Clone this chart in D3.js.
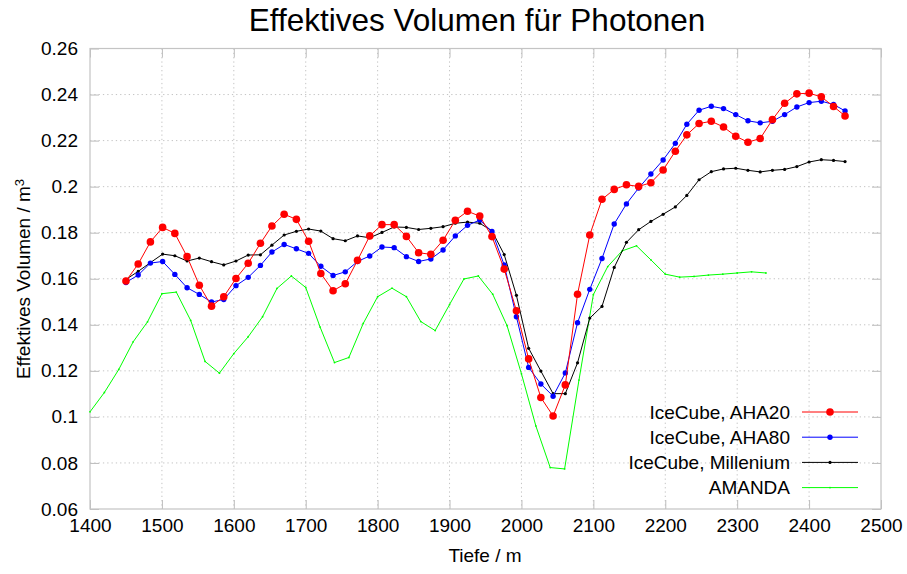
<!DOCTYPE html>
<html>
<head>
<meta charset="utf-8">
<script src="https://cdn.jsdelivr.net/npm/d3@7"></script>
<style>
	body { margin: 0; background: #fff; }
	svg { font-family: "Liberation Sans", Arial, Helvetica, sans-serif; }
</style>
</head>
<body>
<svg id="chart" width="907" height="574"></svg>
<script>
// depth of the IceCube DOMs (m)
const icecubeDepths = [1450, 1467, 1484, 1501, 1518, 1535, 1552, 1569, 1586, 1603,
	1620, 1637, 1653, 1670, 1687, 1704, 1721, 1738, 1755, 1772,
	1789, 1806, 1823, 1840, 1857, 1874, 1891, 1908, 1925, 1942,
	1959, 1976, 1993, 2010, 2027, 2044, 2061, 2078, 2095, 2112,
	2129, 2146, 2163, 2180, 2197, 2214, 2230, 2247, 2264, 2281,
	2298, 2315, 2332, 2349, 2366, 2383, 2400, 2417, 2434, 2450];

const aha20 = [0.1590, 0.1664, 0.1760, 0.1823, 0.1797, 0.1696, 0.1572, 0.1481, 0.1522, 0.1601,
	0.1667, 0.1754, 0.1829, 0.1880, 0.1858, 0.1763, 0.1623, 0.1548, 0.1578, 0.1680,
	0.1786, 0.1835, 0.1835, 0.1784, 0.1713, 0.1706, 0.1767, 0.1854, 0.1893, 0.1872,
	0.1783, 0.1642, 0.1461, 0.1252, 0.1084, 0.1004, 0.1139, 0.1533, 0.1790, 0.1945,
	0.1988, 0.2008, 0.2001, 0.2017, 0.2072, 0.2154, 0.2225, 0.2274, 0.2284, 0.2259,
	0.2219, 0.2193, 0.2209, 0.2291, 0.2362, 0.2403, 0.2406, 0.2390, 0.2348, 0.2307];

const aha80 = [0.1584, 0.1616, 0.1668, 0.1675, 0.1619, 0.1561, 0.1532, 0.1499, 0.1510, 0.1570,
	0.1606, 0.1658, 0.1716, 0.1749, 0.1730, 0.1710, 0.1654, 0.1614, 0.1630, 0.1675,
	0.1699, 0.1738, 0.1735, 0.1696, 0.1675, 0.1686, 0.1725, 0.1786, 0.1832, 0.1855,
	0.1805, 0.1660, 0.1435, 0.1215, 0.1143, 0.1090, 0.1191, 0.1409, 0.1554, 0.1688,
	0.1838, 0.1925, 0.1994, 0.2055, 0.2116, 0.2188, 0.2271, 0.2332, 0.2349, 0.2339,
	0.2313, 0.2286, 0.2277, 0.2284, 0.2313, 0.2346, 0.2365, 0.2371, 0.2357, 0.2329];

const millenium = [0.1597, 0.1632, 0.1670, 0.1707, 0.1700, 0.1677, 0.1690, 0.1674, 0.1660, 0.1677,
	0.1703, 0.1704, 0.1746, 0.1790, 0.1806, 0.1816, 0.1807, 0.1774, 0.1765, 0.1786,
	0.1778, 0.1801, 0.1825, 0.1823, 0.1814, 0.1819, 0.1826, 0.1841, 0.1846, 0.1841,
	0.1808, 0.1705, 0.1528, 0.1298, 0.1199, 0.1101, 0.1101, 0.1235, 0.1429, 0.1480,
	0.1649, 0.1758, 0.1813, 0.1849, 0.1880, 0.1912, 0.1962, 0.2030, 0.2065, 0.2077,
	0.2080, 0.2071, 0.2064, 0.2071, 0.2075, 0.2087, 0.2107, 0.2117, 0.2114, 0.2109];

// AMANDA: every 20 m
const amandaDepths = [1400, 1420, 1440, 1460, 1480, 1500, 1520, 1540, 1560, 1580,
	1600, 1620, 1640, 1660, 1680, 1700, 1720, 1740, 1760, 1780,
	1800, 1820, 1840, 1860, 1880, 1900, 1920, 1940, 1960, 1980,
	2000, 2020, 2040, 2060, 2080, 2100, 2120, 2140, 2160, 2180,
	2200, 2220, 2240, 2260, 2280, 2300, 2320, 2340];

const amanda = [0.1022, 0.1106, 0.1206, 0.1326, 0.1413, 0.1535, 0.1542, 0.1419, 0.1241, 0.1190,
	0.1275, 0.1348, 0.1435, 0.1558, 0.1612, 0.1562, 0.1390, 0.1236, 0.1258, 0.1406,
	0.1522, 0.1559, 0.1522, 0.1414, 0.1375, 0.1488, 0.1599, 0.1612, 0.1533, 0.1396,
	0.1187, 0.0961, 0.0780, 0.0774, 0.1160, 0.1531, 0.1653, 0.1721, 0.1743, 0.1682,
	0.1620, 0.1607, 0.1610, 0.1616, 0.1620, 0.1625, 0.1630, 0.1625];

const xTicks = [1400, 1500, 1600, 1700, 1800, 1900, 2000, 2100, 2200, 2300, 2400, 2500];
const yTicks = [0.06, 0.08, 0.1, 0.12, 0.14, 0.16, 0.18, 0.2, 0.22, 0.24, 0.26];

const series = [
	{name: 'IceCube, AHA20', depths: icecubeDepths, values: aha20, color: '#ff0000', r: 3.8},
	{name: 'IceCube, AHA80', depths: icecubeDepths, values: aha80, color: '#0000ff', r: 2.7},
	{name: 'IceCube, Millenium', depths: icecubeDepths, values: millenium, color: '#000000', r: 1.6},
	{name: 'AMANDA', depths: amandaDepths, values: amanda, color: '#00ff00', r: 0.9}
];

const svg = d3.select('#chart');
const plotLeft = 90, plotRight = 881, plotTop = 48.5, plotBottom = 509;
const tickLen = 9;

const x = d3.scaleLinear().domain([1400, 2500]).range([plotLeft, plotRight]);
const y = d3.scaleLinear().domain([0.06, 0.26]).range([plotBottom, plotTop]);

// grid
const grid = svg.append('g').attr('class', 'grid');
grid.selectAll('line.v')
	.data(xTicks.slice(1, -1))
	.enter().append('line')
		.attr('class', 'v')
		.attr('x1', d => x(d)).attr('x2', d => x(d))
		.attr('y1', plotTop).attr('y2', plotBottom);
grid.selectAll('line.h')
	.data(yTicks.slice(1, -1))
	.enter().append('line')
		.attr('class', 'h')
		.attr('x1', plotLeft).attr('x2', plotRight)
		.attr('y1', d => y(d)).attr('y2', d => y(d));
grid.selectAll('line')
	.attr('stroke', '#c4c4c4')
	.attr('stroke-width', 1)
	.attr('stroke-dasharray', '1.3,3');

// axes: ticks inward and mirrored
function styleAxis(g) {
	g.select('.domain').remove();
	g.selectAll('.tick line').attr('stroke', '#bdbdbd').attr('stroke-width', 1);
	g.selectAll('.tick text').attr('fill', '#000').style('font-size', '19px');
}

svg.append('g')
	.attr('transform', `translate(0,${plotBottom})`)
	.call(d3.axisBottom(x).tickValues(xTicks).tickSize(-tickLen).tickPadding(10).tickFormat(d3.format('d')))
	.call(styleAxis);

svg.append('g')
	.attr('transform', `translate(0,${plotTop})`)
	.call(d3.axisTop(x).tickValues(xTicks).tickSize(-tickLen).tickFormat(''))
	.call(styleAxis);

svg.append('g')
	.attr('transform', `translate(${plotLeft},0)`)
	.call(d3.axisLeft(y).tickValues(yTicks).tickSize(-tickLen).tickPadding(12).tickFormat(d => String(+d.toFixed(2))))
	.call(styleAxis);

svg.append('g')
	.attr('transform', `translate(${plotRight},0)`)
	.call(d3.axisRight(y).tickValues(yTicks).tickSize(-tickLen).tickFormat(''))
	.call(styleAxis);

// border
svg.append('rect')
	.attr('x', plotLeft).attr('y', plotTop)
	.attr('width', plotRight - plotLeft).attr('height', plotBottom - plotTop)
	.attr('fill', 'none')
	.attr('stroke', '#c4c4c4')
	.attr('stroke-width', 1.2);

// lines + points
const line = d3.line()
	.x(d => x(d[0]))
	.y(d => y(d[1]));

series.slice().reverse().forEach(s => {
	const pts = s.depths.map((d, i) => [d, s.values[i]]);
	const g = svg.append('g');
	g.append('path')
		.datum(pts)
		.attr('d', line)
		.attr('fill', 'none')
		.attr('stroke', s.color)
		.attr('stroke-width', 1);
	g.selectAll('circle')
		.data(pts)
		.enter().append('circle')
			.attr('cx', d => x(d[0]))
			.attr('cy', d => y(d[1]))
			.attr('r', s.r)
			.attr('fill', s.color);
});

// legend
const legend = svg.append('g').attr('class', 'legend');
const legendRows = legend.selectAll('g')
	.data(series)
	.enter().append('g')
		.attr('transform', (d, i) => `translate(0,${412 + i * 25.2})`);
legendRows.append('text')
	.text(d => d.name)
	.attr('x', 790)
	.attr('dy', '0.35em')
	.attr('text-anchor', 'end')
	.style('font-size', '19px');
legendRows.append('line')
	.attr('x1', 802).attr('x2', 858)
	.attr('stroke', d => d.color)
	.attr('stroke-width', 1);
legendRows.append('circle')
	.attr('cx', 830)
	.attr('r', d => d.r)
	.attr('fill', d => d.color);

// titles
svg.append('text')
	.text('Effektives Volumen für Photonen')
	.attr('x', 477)
	.attr('y', 31)
	.attr('text-anchor', 'middle')
	.style('font-size', '31.5px');

svg.append('text')
	.text('Tiefe / m')
	.attr('x', 485)
	.attr('y', 562)
	.attr('text-anchor', 'middle')
	.style('font-size', '19px');

const yLabel = svg.append('text')
	.attr('transform', 'translate(30,279) rotate(-90)')
	.attr('text-anchor', 'middle')
	.style('font-size', '19px');
yLabel.append('tspan').text('Effektives Volumen / m');
yLabel.append('tspan').text('3').attr('dy', '-0.45em').style('font-size', '13px');
</script>
</body>
</html>
